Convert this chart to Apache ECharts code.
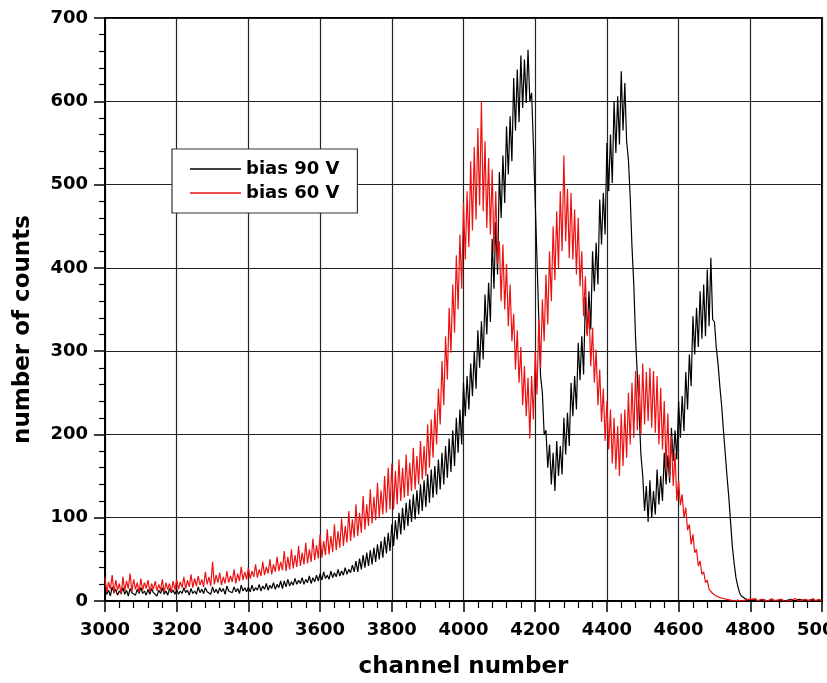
<!DOCTYPE html>
<html>
<head>
<meta charset="utf-8">
<script src="https://cdn.jsdelivr.net/npm/echarts@6/dist/echarts.min.js"></script>
<style>
  html, body { margin: 0; padding: 0; background: #fff; }
  #chart { width: 827px; height: 683px; }
</style>
</head>
<body>
<div id="chart"></div>
<script>
// Spectra binned every 5 channels, starting at channel 3000
const channelStart = 3000;
const channelStep = 5;

const xTicks = [3000, 3200, 3400, 3600, 3800, 4000, 4200, 4400, 4600, 4800, 5000];
const yTicks = [0, 100, 200, 300, 400, 500, 600, 700];

const seriesNames = ['bias 90 V', 'bias 60 V'];

// bias 90 V counts (one row = 100 channels)
const counts90 = [
  15, 8, 13, 6, 17, 10, 14, 7, 12, 9, 16, 8, 13, 6, 15, 10, 12, 7, 14, 9,
  16, 9, 12, 7, 14, 8, 15, 10, 11, 6, 13, 9, 16, 8, 12, 7, 15, 10, 13, 8,
  14, 8, 12, 9, 16, 10, 13, 7, 15, 9, 12, 8, 17, 10, 14, 9, 16, 11, 13, 8,
  17, 10, 14, 9, 16, 11, 15, 8, 18, 12, 14, 10, 17, 11, 15, 9, 19, 12, 16, 11,
  17, 11, 19, 12, 16, 13, 20, 12, 18, 14, 21, 13, 19, 15, 22, 14, 20, 16, 24, 15,
  24, 17, 26, 18, 23, 19, 27, 20, 25, 21, 28, 20, 26, 22, 30, 21, 28, 23, 31, 24,
  33, 25, 35, 27, 31, 26, 36, 28, 34, 29, 38, 30, 36, 31, 40, 32, 38, 34, 43, 35,
  48, 35, 51, 38, 55, 40, 58, 42, 61, 44, 64, 47, 68, 50, 72, 52, 77, 57, 82, 60,
  92, 66, 97, 74, 106, 80, 112, 85, 118, 90, 122, 95, 128, 98, 133, 104, 140, 108, 145, 113,
  152, 118, 158, 124, 162, 128, 170, 134, 178, 140, 186, 148, 195, 155, 205, 162, 220, 178, 230, 188,
  262, 222, 270, 230, 285, 246, 300, 255, 325, 280, 336, 290, 368, 320, 382, 335, 435, 375, 455, 392,
  515, 460, 535, 478, 570, 512, 582, 528, 628, 565, 638, 575, 655, 592, 650, 598, 662, 600, 610, 548,
  480, 410, 340, 270, 250, 200, 205, 160, 188, 140, 178, 132, 192, 150, 186, 152, 220, 176, 226, 186,
  262, 222, 270, 230, 310, 265, 318, 272, 365, 320, 372, 326, 420, 372, 430, 380, 482, 428, 490, 440,
  550, 492, 560, 502, 600, 538, 606, 548, 636, 565, 622, 552, 530, 485, 425, 380, 315, 270, 225, 175,
  150, 108, 138, 95, 145, 100, 132, 104, 158, 116, 150, 120, 178, 140, 175, 142, 208, 168, 205, 170,
  240, 196, 246, 204, 275, 230, 296, 258, 342, 296, 352, 305, 372, 315, 380, 318, 398, 330, 412, 338,
  335, 305, 285, 258, 235, 205, 178, 150, 125, 95, 65, 45, 28, 18, 10, 6, 4, 3, 2, 1,
  1, 2, 0, 1, 2, 0, 1, 2, 1, 0, 2, 1, 0, 1, 2, 0, 1, 2, 1, 0,
  2, 1, 0, 2, 1, 0, 1, 2, 0, 1, 2, 0, 1, 1, 0, 2, 1, 0, 2, 1,
  1
];

// bias 60 V counts (one row = 100 channels)
const counts60 = [
  28, 10, 23, 14, 31, 9, 25, 13, 21, 8, 29, 12, 24, 15, 33, 11, 26, 14, 22, 10,
  27, 13, 22, 15, 25, 11, 21, 14, 24, 12, 20, 13, 26, 10, 22, 14, 21, 11, 24, 13,
  26, 14, 23, 16, 29, 15, 25, 17, 32, 16, 27, 18, 30, 19, 26, 17, 35, 20, 29, 18,
  47, 20, 31, 22, 34, 19, 29, 21, 36, 22, 30, 23, 38, 21, 33, 24, 41, 25, 35, 26,
  40, 27, 36, 29, 44, 28, 38, 30, 47, 31, 41, 33, 50, 32, 44, 35, 53, 36, 47, 37,
  60, 36, 53, 38, 62, 39, 55, 41, 66, 42, 58, 44, 70, 45, 62, 47, 75, 49, 67, 51,
  80, 52, 72, 55, 86, 56, 78, 59, 92, 61, 84, 64, 99, 66, 90, 70, 108, 72, 98, 76,
  116, 78, 106, 82, 126, 86, 116, 90, 134, 93, 125, 97, 142, 100, 133, 104, 150, 106, 160, 110,
  165, 110, 156, 116, 170, 120, 160, 124, 176, 126, 166, 132, 184, 134, 174, 140, 192, 146, 186, 150,
  212, 160, 218, 172, 230, 188, 255, 212, 288, 235, 318, 266, 352, 298, 380, 322, 415, 350, 440, 375,
  478, 410, 492, 425, 528, 445, 545, 458, 568, 475, 600, 468, 552, 448, 532, 440, 518, 418, 492, 405,
  432, 360, 428, 350, 405, 330, 380, 312, 345, 278, 325, 262, 305, 235, 282, 222, 268, 195, 270, 218,
  300, 248, 338, 280, 362, 312, 392, 332, 420, 360, 450, 385, 468, 400, 492, 420, 535, 432, 495, 412,
  490, 410, 470, 392, 460, 378, 420, 342, 390, 318, 350, 282, 328, 262, 302, 235, 278, 215, 255, 192,
  240, 182, 230, 165, 220, 158, 210, 150, 225, 162, 230, 172, 250, 188, 262, 196, 276, 205, 272, 200,
  285, 212, 275, 216, 280, 208, 276, 202, 270, 188, 256, 182, 240, 158, 225, 148, 198, 138, 178, 120,
  145, 115, 128, 100, 112, 85, 92, 68, 80, 58, 62, 42, 48, 32, 35, 22, 25, 14, 16, 9,
  10, 6, 8, 4, 6, 3, 5, 2, 4, 1, 3, 0, 2, 1, 3, 0, 2, 1, 0, 2,
  0, 2, 1, 3, 0, 1, 2, 0, 1, 2, 0, 1, 3, 0, 2, 1, 0, 2, 1, 0,
  1, 0, 2, 1, 0, 3, 1, 0, 2, 1, 0, 2, 1, 0, 1, 3, 0, 1, 2, 0,
  0
];

function toPairs(values) {
  return values.map((v, i) => [channelStart + i * channelStep, v]);
}

const FONT = '"DejaVu Sans", Verdana, sans-serif';
const chart = echarts.init(document.getElementById('chart'), null, { renderer: 'canvas' });

const axisCommon = {
  axisLine: { show: true, lineStyle: { color: '#000', width: 2 } },
  axisTick: { show: true, inside: false, length: 11, lineStyle: { color: '#000', width: 1.5 } },
  minorTick: { show: true, splitNumber: 5, length: 6, lineStyle: { color: '#000', width: 1.2 } },
  splitLine: { show: true, lineStyle: { color: '#222', width: 1.2 } },
  axisLabel: {
    color: '#000', fontFamily: FONT, fontWeight: 'bold', fontSize: 18,
    formatter: (v) => String(v)
  },
  nameTextStyle: { color: '#000', fontFamily: FONT, fontWeight: 'bold', fontSize: 23 }
};

chart.setOption({
  animation: false,
  backgroundColor: '#fff',
  grid: {
    left: 105, right: 5, top: 18, bottom: 82,
    containLabel: false,
    outerBoundsMode: 'none',
    show: true, borderColor: '#000', borderWidth: 2
  },
  legend: {
    data: seriesNames,
    orient: 'vertical',
    left: 172, top: 149,
    padding: [10, 18, 10, 18],
    itemGap: 4,
    icon: 'rect',
    itemWidth: 51,
    itemHeight: 1.5,
    backgroundColor: '#fff',
    borderColor: '#333',
    borderWidth: 1.2,
    borderRadius: 0,
    textStyle: { color: '#000', fontFamily: FONT, fontWeight: 'bold', fontSize: 18, lineHeight: 20 }
  },
  xAxis: Object.assign({}, axisCommon, {
    type: 'value',
    min: xTicks[0],
    max: xTicks[xTicks.length - 1],
    interval: xTicks[1] - xTicks[0],
    name: 'channel number',
    nameLocation: 'middle',
    nameGap: 55,
    minorTick: Object.assign({}, axisCommon.minorTick, { length: 7 }),
    axisLabel: Object.assign({}, axisCommon.axisLabel, { margin: 20, showMinLabel: true, showMaxLabel: true, hideOverlap: false })
  }),
  yAxis: Object.assign({}, axisCommon, {
    type: 'value',
    min: yTicks[0],
    max: yTicks[yTicks.length - 1],
    interval: yTicks[1] - yTicks[0],
    name: 'number of counts',
    nameLocation: 'middle',
    nameRotate: 90,
    nameGap: 70,
    nameTextStyle: Object.assign({}, axisCommon.nameTextStyle, { padding: [0, 40, 0, 0] }),
    axisLabel: Object.assign({}, axisCommon.axisLabel, { margin: 17 })
  }),
  series: [
    {
      name: seriesNames[0],
      type: 'line',
      data: toPairs(counts90),
      symbol: 'none',
      lineStyle: { color: '#000', width: 1.2 },
      itemStyle: { color: '#000' },
      z: 2
    },
    {
      name: seriesNames[1],
      type: 'line',
      data: toPairs(counts60),
      symbol: 'none',
      lineStyle: { color: '#ee1111', width: 1.2 },
      itemStyle: { color: '#ee1111' },
      z: 3
    }
  ]
});
</script>
</body>
</html>
